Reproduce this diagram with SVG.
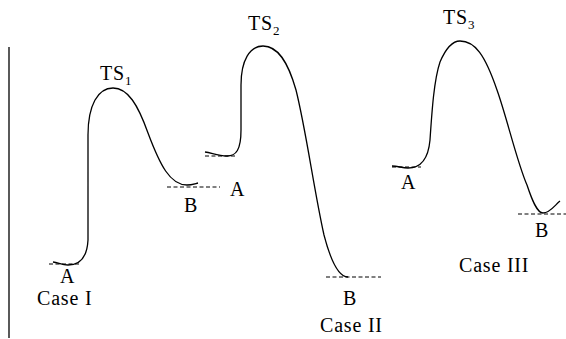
<svg xmlns="http://www.w3.org/2000/svg" width="566" height="339" viewBox="0 0 566 339">
<style>
.c{fill:none;stroke:#000;stroke-width:1.3}
.d{fill:none;stroke:#000;stroke-width:1;stroke-dasharray:4,2.5}
text{font-family:'Liberation Serif','Times New Roman','DejaVu Serif',serif;font-size:20px;fill:#000;letter-spacing:0.8px}
.s{font-size:13px}
</style>
<rect width="566" height="339" fill="#fff"/>
<line x1="9" y1="47" x2="9" y2="338" stroke="#000" stroke-width="1.3"/>
<g id="connectors">
<path class="c" d="M53,262 C59,263 62,265 68,265 C78,265 87,259 88,240 L88,135 C88,105 98,88 113,88 C128,88 138,105 148,133 C160,165 170,185 187,185 C191,185 194,184 198,183"/>
<path class="c" d="M205,152 C212,153 218,156 227,156 C236,156 241,150 241,130 L241,85 C241,60 250,46 263,46 C278,46 288,62 296,90 C306,130 314,190 324,235 C330,258 338,277 348,277"/>
<path class="c" d="M392,166 C398,166 402,168 408,168 C418,168 428,162 430,140 C432,110 434,80 440,62 C446,48 452,41 460,41 C475,41 485,55 497,90 C507,118 517,162 527,185 C532,200 537,213 543,213 C550,213 555,205 560,201"/>
<line class="d" x1="49" y1="264" x2="79" y2="264"/>
<line class="d" x1="167" y1="187" x2="220" y2="187"/>
<line class="d" x1="205" y1="156" x2="235" y2="156"/>
<line class="d" x1="326" y1="277" x2="381" y2="277"/>
<line class="d" x1="392" y1="167" x2="421" y2="167"/>
<line class="d" x1="518" y1="214" x2="566" y2="214"/>
</g>
<g id="case1">
<text x="100" y="80" font-family="Liberation Serif">TS<tspan class="s" dy="5">1</tspan></text>
<text x="60" y="283" font-family="Liberation Serif">A</text>
<text x="184" y="212" font-family="Liberation Serif">B</text>
<text x="37" y="305" font-family="Liberation Serif">Case I</text>
</g>
<g id="case2">
<text x="248" y="30" font-family="Liberation Serif">TS<tspan class="s" dy="5">2</tspan></text>
<text x="230" y="196" font-family="Liberation Serif">A</text>
<text x="343" y="305" font-family="Liberation Serif">B</text>
<text x="320" y="332" font-family="Liberation Serif">Case II</text>
</g>
<g id="case3">
<text x="443" y="24" font-family="Liberation Serif">TS<tspan class="s" dy="5">3</tspan></text>
<text x="401" y="189" font-family="Liberation Serif">A</text>
<text x="535" y="237" font-family="Liberation Serif">B</text>
<text x="459" y="272" font-family="Liberation Serif">Case III</text>
</g>
</svg>
